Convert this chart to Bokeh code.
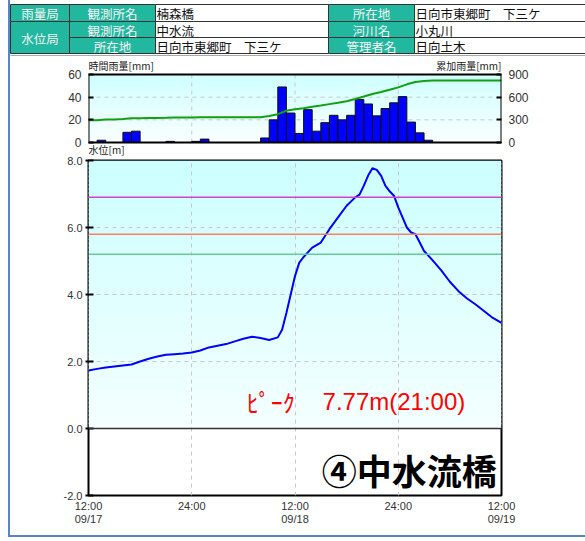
import numpy as np
from bokeh.plotting import figure
from bokeh.models import (Range1d, LinearAxis, FixedTicker, Grid, Label, Span,
                          NumeralTickFormatter)
from bokeh.layouts import column
from bokeh.embed import file_html
from bokeh.resources import INLINE
from bokeh.core.properties import value

JP = "Noto Sans CJK JP"
NUM = "Liberation Sans"

# ---------------- data ----------------
# hours counted from 09/17 12:00
hour_index = list(range(48))
rain_hourly = [0, 2, 0, 0, 9, 10, 0, 0, 0, 1, 0, 0, 1, 3, 0, 0, 0, 0, 0, 0,
               4, 20, 49, 26, 8, 29, 10, 17.5, 24, 20, 24, 38, 34, 23.5, 30, 35,
               40.5, 18, 8.5, 2, 0, 0, 0, 0, 0, 0, 0, 0]
cum_hours = list(range(49))
rain_cum = [294, 296, 305, 306, 312, 321, 322, 323, 324, 326, 330, 331, 332, 334,
            335, 335, 335, 335, 335, 335, 335, 350, 375, 420, 440, 452, 473, 490,
            508, 526, 546, 575, 608, 642, 668, 698, 730, 770, 800, 815, 820, 820,
            820, 820, 820, 820, 820, 820, 820]
level_hours = [0, 1, 2, 3, 4, 5, 6, 7, 8, 9, 10, 11, 12, 13, 14, 15, 16, 17, 18,
               19, 20, 21, 22, 22.5, 23, 23.5, 24, 24.5, 25, 26, 27, 28, 29, 30,
               31, 31.5, 32, 32.5, 33, 33.5, 34, 34.5, 35, 35.5, 36, 36.5, 37,
               37.5, 38, 38.5, 39, 40, 41, 42, 43, 44, 45, 46, 47, 48]
water_level = [1.73, 1.78, 1.82, 1.85, 1.88, 1.91, 2.0, 2.08, 2.15, 2.2, 2.22,
               2.24, 2.27, 2.33, 2.42, 2.47, 2.52, 2.6, 2.68, 2.74, 2.7, 2.64,
               2.72, 2.95, 3.45, 4.0, 4.55, 4.95, 5.12, 5.4, 5.55, 5.95, 6.3,
               6.65, 6.9, 6.98, 7.25, 7.55, 7.77, 7.72, 7.55, 7.25, 7.08, 6.95,
               6.6, 6.3, 6.0, 5.85, 5.8, 5.55, 5.3, 5.02, 4.72, 4.38, 4.1, 3.88,
               3.7, 3.5, 3.3, 3.15]
threshold_levels = [6.9, 5.8, 5.2]
threshold_colors = ["#cc44cc", "#ff8060", "#66cc99"]

x_ticks = [0, 12, 24, 36, 48]
x_tick_labels = ["12:00\n09/17", "24:00", "12:00\n09/18", "24:00", "12:00\n09/19"]
rain_ticks = [0, 20, 40, 60]
cum_ticks = [0, 300, 600, 900]
level_ticks = [-2, 0, 2, 4, 6, 8]
grid_hours = [12, 24, 36]
rain_grid = [20, 40]

peak_word = "ﾋﾟｰｸ"
peak_text = "7.77m(21:00)"
station_title = "④中水流橋"
rain_caption = "時間雨量[mm]"
cum_caption = "累加雨量[mm]"
level_caption = "水位[m]"

header_teal = ["雨量局", "水位局", "観測所名", "観測所名", "所在地", "所在地", "河川名", "管理者名"]
header_white = ["楠森橋", "中水流", "日向市東郷町　下三ケ", "日向市東郷町　下三ケ", "小丸川", "日向土木"]

TEAL = "#22b8a0"
BLUE_FRAME = "#5a83c8"
GRID = "#c8c8c8"
W = 585
RAIN_MAX = 60
CUM_MAX = 900


def add_gradient(p, x0, x1, y_bottom, y_top, c_bottom, c_top, n=64):
    edges = np.linspace(y_bottom, y_top, n + 1)
    step = edges[1] - edges[0]
    cols = []
    for i in range(n):
        f = (i + 0.5) / n
        rgb = tuple(int(round(c_bottom[k] + (c_top[k] - c_bottom[k]) * f)) for k in range(3))
        cols.append("#%02x%02x%02x" % rgb)
    tops = np.minimum(edges[1:] + step * 0.4, y_top)
    p.quad(left=x0, right=x1, bottom=edges[:-1], top=tops,
           fill_color=cols, line_color=None, level="image")


def style_axis(ax, size="11px"):
    ax.axis_line_color = None
    ax.major_label_text_font = NUM
    ax.major_label_text_font_size = size
    ax.major_label_text_color = "#333333"
    ax.minor_tick_line_color = None


# ---------------- header table ----------------
hdr = figure(width=W, height=56, x_range=Range1d(0, W), y_range=Range1d(56, 0),
             x_axis_type=None, y_axis_type=None, toolbar_location=None,
             output_backend="svg", min_border=0, outline_line_color=None,
             border_fill_color=None, background_fill_color=None)
try:
    hdr.frame_align = False
except Exception:
    pass
cols_x = [10, 69, 155, 328, 414, 600]
rows_y = [4, 21, 37, 53]
teal_boxes = [(0, 0, 1), (0, 1, 3), (1, 0, 1), (1, 1, 2), (1, 2, 3), (3, 0, 1), (3, 1, 2), (3, 2, 3)]
white_boxes = [(2, 0, 1), (2, 1, 2), (2, 2, 3), (4, 0, 1), (4, 1, 2), (4, 2, 3)]
tl = [cols_x[c] for c, r0, r1 in teal_boxes]
tr = [cols_x[c + 1] for c, r0, r1 in teal_boxes]
tt = [rows_y[r0] for c, r0, r1 in teal_boxes]
tb = [rows_y[r1] for c, r0, r1 in teal_boxes]
hdr.quad(left=tl, right=tr, top=tt, bottom=tb, fill_color=TEAL, line_color="#333333", line_width=1)
wl = [cols_x[c] for c, r0, r1 in white_boxes]
wr = [cols_x[c + 1] for c, r0, r1 in white_boxes]
wt = [rows_y[r0] for c, r0, r1 in white_boxes]
wb = [rows_y[r1] for c, r0, r1 in white_boxes]
hdr.quad(left=wl, right=wr, top=wt, bottom=wb, fill_color="white", line_color="#333333", line_width=1)
hdr.text(x=[(a + b) / 2 for a, b in zip(tl, tr)], y=[(a + b) / 2 + 0.5 for a, b in zip(tt, tb)],
         text=header_teal, text_align="center", text_baseline="middle",
         text_font=value(JP), text_font_size="12.5px", text_color="#f2f2f2")
hdr.text(x=[a + 1 for a in wl], y=[(a + b) / 2 + 0.5 for a, b in zip(wt, wb)],
         text=header_white, text_align="left", text_baseline="middle",
         text_font=value(JP), text_font_size="12.5px", text_color="#111111")
hdr.line(x=[10, W], y=[55, 55], line_color="#aaaaaa", line_width=1)

# ---------------- rain chart ----------------
# the frame is taller than the data box so that the captions above and below can be drawn
RAIN_PX = 68.0                 # pixel height of the 0..60 box
px_per_mm = RAIN_PX / RAIN_MAX
pad_top_px, pad_bot_px = 17.0, 14.0
r_lo = -pad_bot_px / px_per_mm
r_hi = RAIN_MAX + pad_top_px / px_per_mm
ratio = CUM_MAX / RAIN_MAX
rf = figure(x_range=Range1d(0, 48), y_range=Range1d(r_lo, r_hi), x_axis_type=None, y_axis_type=None,
            frame_width=413, frame_height=int(RAIN_PX + pad_top_px + pad_bot_px),
            min_border_left=88, min_border_right=84,
            min_border_top=1, min_border_bottom=0, toolbar_location=None,
            output_backend="svg", outline_line_color=None,
            background_fill_color=None, border_fill_color=None)
rf.extra_y_ranges = {"cum": Range1d(r_lo * ratio, r_hi * ratio)}
add_gradient(rf, 0, 48, 0, RAIN_MAX, (250, 255, 255), (206, 255, 255))
yl = LinearAxis(ticker=FixedTicker(ticks=rain_ticks))
style_axis(yl, "12px")
yl.major_tick_in = 5
yl.major_tick_out = 0
yl.major_tick_line_width = 2
yl.major_label_standoff = 7
rf.add_layout(yl, "left")
yr = LinearAxis(y_range_name="cum", ticker=FixedTicker(ticks=cum_ticks))
style_axis(yr, "12px")
yr.major_tick_in = 5
yr.major_tick_out = 0
yr.major_tick_line_width = 2
yr.major_label_standoff = 7
rf.add_layout(yr, "right")
rf.segment(x0=grid_hours, y0=0, x1=grid_hours, y1=RAIN_MAX, line_color=GRID, line_dash="4 4")
rf.segment(x0=0, y0=rain_grid, x1=48, y1=rain_grid, line_color=GRID, line_dash="4 4")
rf.vbar(x=[h + 0.5 for h in hour_index], top=rain_hourly, width=1, bottom=0,
        fill_color="#0000ff", line_color="#111111", line_width=1)
rf.line(x=cum_hours, y=rain_cum, y_range_name="cum", line_color="#11a011", line_width=2)
rf.quad(left=0, right=48, bottom=0, top=RAIN_MAX, fill_color=None, line_color="black", line_width=2)
rf.add_layout(Label(x=0, y=RAIN_MAX, y_offset=9, text=rain_caption, text_align="left",
                    text_baseline="middle", text_font=JP, text_font_size="10px",
                    text_color="#222222"))
rf.add_layout(Label(x=48, y=RAIN_MAX, y_offset=9, text=cum_caption, text_align="right",
                    text_baseline="middle", text_font=JP, text_font_size="10px",
                    text_color="#222222"))
rf.add_layout(Label(x=0, y=0, y_offset=-6.5, text=level_caption, text_align="left",
                    text_baseline="middle", text_font=JP, text_font_size="10px",
                    text_color="#222222"))

# ---------------- water level chart ----------------
mf = figure(x_range=Range1d(0, 48), y_range=Range1d(-2, 8), x_axis_type=None, y_axis_type=None,
            frame_width=413, frame_height=335, min_border_left=88, min_border_right=84,
            min_border_top=4, min_border_bottom=43, toolbar_location=None,
            output_backend="svg", outline_line_color="black", outline_line_width=2,
            background_fill_color="white", border_fill_color=None)
add_gradient(mf, 0, 48, 0, 8, (244, 255, 255), (204, 255, 255))
ly = LinearAxis(ticker=FixedTicker(ticks=level_ticks), formatter=NumeralTickFormatter(format="0.0"))
style_axis(ly)
ly.major_tick_in = 5
ly.major_tick_out = 3
ly.major_tick_line_width = 2
ly.major_label_standoff = 3
mf.add_layout(ly, "left")
lx = LinearAxis(ticker=FixedTicker(ticks=x_ticks),
                major_label_overrides={t: s for t, s in zip(x_ticks, x_tick_labels)})
style_axis(lx)
lx.major_tick_line_color = None
lx.major_tick_out = 0
lx.major_tick_in = 0
lx.major_label_standoff = 4
lx.major_label_text_line_height = 1.15
mf.add_layout(lx, "below")
mf.add_layout(Grid(dimension=0, ticker=FixedTicker(ticks=grid_hours),
                   grid_line_color=GRID, grid_line_dash="4 4"))
mf.add_layout(Grid(dimension=1, ticker=FixedTicker(ticks=[2, 4, 6]),
                   grid_line_color=GRID, grid_line_dash="4 4"))
for lev, col in zip(threshold_levels, threshold_colors):
    mf.add_layout(Span(location=lev, dimension="width", line_color=col, line_width=1.5))
mf.add_layout(Span(location=0, dimension="width", line_color="#333333", line_width=1.5))
mf.line(x=level_hours, y=water_level, line_color="#0000ff", line_width=2)

mf.add_layout(Label(x=18.4, y=0.8, text=peak_word, text_align="left", text_baseline="middle",
                    text_font=JP, text_font_size="24px", text_color="#ff0000"))
mf.add_layout(Label(x=27.2, y=0.8, text=peak_text, text_align="left", text_baseline="middle",
                    text_font=NUM, text_font_size="24px", text_color="#ff0000"))
mf.add_layout(Label(x=27.1, y=-1.22, text=station_title, text_align="left", text_baseline="middle",
                    text_font=JP, text_font_size="35px", text_font_style="bold",
                    text_color="#000000"))

bg = ("linear-gradient(%s,%s) 8px 0px / 2px 537px no-repeat, "
      "linear-gradient(%s,%s) 8px 535px / 577px 2px no-repeat") % ((BLUE_FRAME,) * 4)
layout = column(hdr, rf, mf, spacing=0, styles={"background": bg})

open("out.html", "w").write(file_html(layout, INLINE))
